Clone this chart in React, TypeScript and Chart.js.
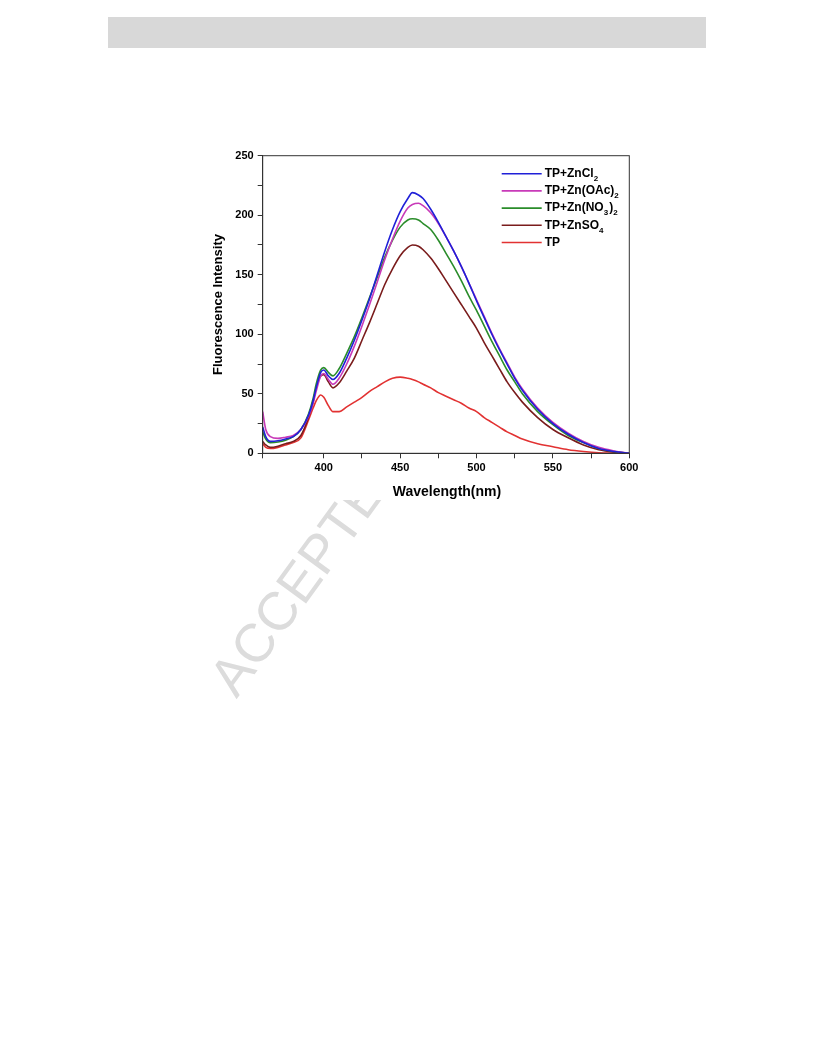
import React, { useEffect, useRef } from 'react';
import { Chart, registerables } from 'chart.js';

Chart.register(...registerables);

// Wavelength (nm) sampling points
const wavelengths = [360, 362, 365, 370, 375, 380, 385, 390, 393, 395, 398, 400, 403, 406, 410, 415, 420, 425, 430, 435, 440, 445, 450, 455, 458, 462, 465, 470, 475, 480, 485, 490, 495, 500, 505, 510, 515, 520, 525, 530, 540, 550, 560, 570, 580, 590, 600];

const tpZnCl2 = [22, 14, 10, 10.5, 12, 14, 20, 32, 44, 55, 68, 70, 65, 62, 67, 80, 95, 112, 130, 150, 170, 188, 203, 214, 219, 217, 214, 205, 194, 182, 170, 157, 143, 128, 114, 100, 87, 75, 63, 53, 37, 25, 16, 9, 4, 1.5, 0];
const tpZnOAc2 = [35, 20, 14, 12.5, 13.5, 15, 20, 31, 42, 52, 65, 67, 62, 58, 63, 75, 90, 107, 125, 144, 163, 180, 195, 206, 209, 210, 208, 202, 193, 182, 170, 157, 143, 129, 115, 101, 88, 76, 64, 54, 38, 26, 17, 10, 5, 2, 0];
const tpZnNO32 = [18, 12, 9, 9.5, 11, 14, 20, 33, 46, 58, 70, 72, 68, 65, 71, 84, 98, 114, 131, 148, 165, 179, 190, 196, 197, 196, 193, 188, 179, 168, 157, 145, 132, 120, 107, 94, 82, 70, 60, 50, 35, 24, 15, 9, 4, 1.5, 0];
const tpZnSO4 = [10, 7, 5, 6, 8, 10, 15, 30, 43, 55, 65, 66, 60, 55, 59, 69, 80, 95, 110, 126, 142, 155, 166, 173, 175, 174, 171, 164, 155, 145, 135, 125, 115, 105, 93, 82, 71, 60, 51, 43, 30, 20, 13, 7, 3, 1, 0];
const tpOnly = [8, 5, 4, 5, 7, 9, 13, 28, 38, 44, 49, 47, 40, 35, 35, 39, 43, 47, 52, 56, 60, 63, 64, 63, 62, 60, 58, 55, 51, 48, 45, 42, 38, 35, 30, 26, 22, 18, 15, 12, 8, 5.5, 3, 1.5, 0.5, 0.2, 0];

// Legend labels: [text, isSubscript]
const legendParts: [string, boolean][][] = [
  [['TP+ZnCl', false], ['2', true]],
  [['TP+Zn(OAc)', false], ['2', true]],
  [['TP+Zn(NO', false], ['3', true], [')', false], ['2', true]],
  [['TP+ZnSO', false], ['4', true]],
  [['TP', false]],
];
const seriesColors = ['#2020d8', '#c83ab8', '#2a8c2a', '#7a1c1c', '#e23232'];
const seriesValues = [tpZnCl2, tpZnOAc2, tpZnNO32, tpZnSO4, tpOnly];

const xTitle = 'Wavelength(nm)';
const yTitle = 'Fluorescence Intensity';
const xMin = 360, xMax = 600, yMin = 0, yMax = 250;

const FONT = 'Arial, "Liberation Sans", sans-serif';

const decorPlugin = {
  id: 'decor',
  afterDraw(chart: any) {
    const { ctx, chartArea } = chart;
    const { left, right, top, bottom } = chartArea;
    ctx.save();
    // frame
    ctx.strokeStyle = '#333';
    ctx.lineWidth = 1;
    ctx.strokeRect(left, top, right - left, bottom - top);
    // axis titles
    ctx.fillStyle = '#000';
    ctx.font = 'bold 14px ' + FONT;
    ctx.textAlign = 'center';
    ctx.textBaseline = 'middle';
    ctx.fillText(xTitle, (left + right) / 2 + 1, bottom + 39);
    ctx.save();
    ctx.translate(left - 44, (top + bottom) / 2);
    ctx.rotate(-Math.PI / 2);
    ctx.font = 'bold 13px ' + FONT;
    ctx.fillText(yTitle, 0, 0);
    ctx.restore();
    // legend
    const lx0 = left + 239, lx1 = left + 279, tx = left + 282;
    legendParts.forEach((parts, i) => {
      const y = top + 18 + i * 17.2;
      ctx.strokeStyle = seriesColors[i];
      ctx.lineWidth = 1.6;
      ctx.beginPath();
      ctx.moveTo(lx0, y);
      ctx.lineTo(lx1, y);
      ctx.stroke();
      let x = tx;
      ctx.textAlign = 'left';
      ctx.textBaseline = 'middle';
      ctx.fillStyle = '#000';
      parts.forEach(([t, sub]) => {
        ctx.font = (sub ? 'bold 8px ' : 'bold 12px ') + FONT;
        ctx.fillText(t, x, sub ? y + 5 : y);
        x += ctx.measureText(t).width + (sub ? 1 : 0);
      });
    });
    ctx.restore();
  },
};

export default function App() {
  const ref = useRef<HTMLCanvasElement>(null);
  useEffect(() => {
    if (!ref.current) return;
    const datasets = seriesValues.map((vals, i) => ({
      label: legendParts[i].map((p) => p[0]).join(''),
      data: wavelengths.map((w, j) => ({ x: w, y: vals[j] })),
      borderColor: seriesColors[i],
      backgroundColor: seriesColors[i],
      borderWidth: 1.6,
      pointRadius: 0,
      cubicInterpolationMode: 'monotone' as const,
    }));
    const chart = new Chart(ref.current, {
      type: 'line',
      data: { datasets },
      options: {
        animation: false,
        responsive: false,
        maintainAspectRatio: false,
        layout: { padding: { top: 55.7, right: 20.7, left: 0, bottom: 0 } },
        plugins: { legend: { display: false }, tooltip: { enabled: false } },
        scales: {
          x: {
            type: 'linear',
            min: xMin,
            max: xMax,
            afterFit: (s: any) => { s.height = 46.7; },
            ticks: {
              stepSize: 25,
              autoSkip: false,
              maxRotation: 0,
              padding: 3,
              color: '#000',
              font: { family: FONT, size: 11, weight: 'bold' },
              callback: (v: any) => (Number(v) % 50 === 0 ? String(v) : ''),
            },
            grid: { drawOnChartArea: false, drawTicks: true, tickLength: 5, color: '#333' },
            border: { display: true, color: '#333' },
          },
          y: {
            type: 'linear',
            min: yMin,
            max: yMax,
            afterFit: (s: any) => { s.width = 62.7; },
            ticks: {
              stepSize: 25,
              autoSkip: false,
              padding: 4,
              color: '#000',
              font: { family: FONT, size: 11, weight: 'bold' },
              callback: (v: any) => (Number(v) % 50 === 0 ? String(v) : ''),
            },
            grid: { drawOnChartArea: false, drawTicks: true, tickLength: 5, color: '#333' },
            border: { display: true, color: '#333' },
          },
        },
      },
      plugins: [decorPlugin],
    });
    return () => chart.destroy();
  }, []);

  return (
    <div>
      <div style={{ position: 'absolute', left: 108, top: 17, width: 598, height: 31, background: '#d8d8d8' }} />
      <div
        style={{
          position: 'absolute',
          left: 243,
          top: 650,
          fontFamily: FONT,
          fontSize: 54,
          lineHeight: '54px',
          color: '#dcdcdc',
          whiteSpace: 'nowrap',
          transform: 'rotate(-54deg)',
          transformOrigin: '0 100%',
        }}
      >
        ACCEPTED MANUSCRIPT
      </div>
      <div style={{ position: 'absolute', left: 200, top: 100, width: 450, height: 400, background: '#fff' }}>
        <canvas ref={ref} width={450} height={400} style={{ display: 'block' }} />
      </div>
    </div>
  );
}
